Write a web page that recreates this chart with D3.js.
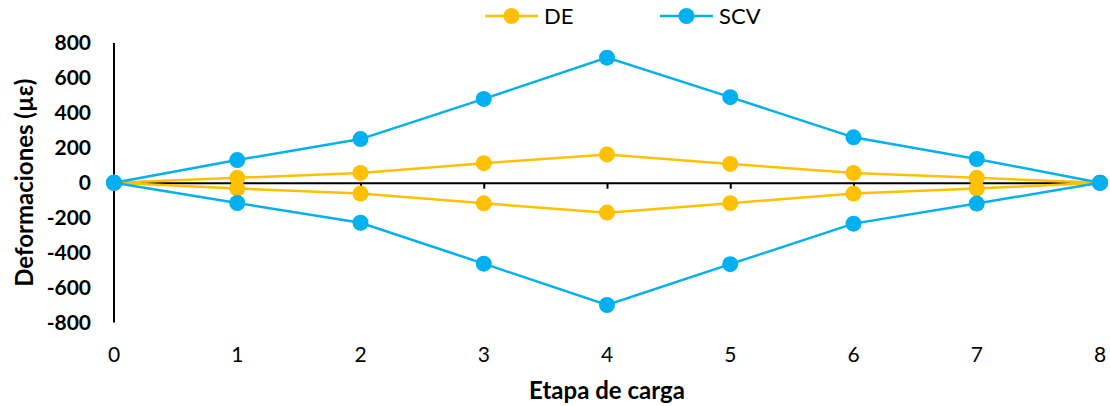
<!DOCTYPE html>
<html>
<head>
<meta charset="utf-8">
<script src="https://cdn.jsdelivr.net/npm/d3@7"></script>
<style>
  body { margin: 0; background: #fff; }
  text { font-family: Lato, "Open Sans", sans-serif; }
</style>
</head>
<body>
<div id="chart"></div>
<script>
// Data
var etapas = [0, 1, 2, 3, 4, 5, 6, 7, 8];
var deSup = [0, 28, 56, 112, 162, 108, 56, 28, 0];
var deInf = [0, -33, -62, -118, -171, -117, -62, -33, 0];
var scvSup = [0, 130, 250, 480, 716, 490, 260, 136, 0];
var scvInf = [0, -116, -229, -463, -700, -466, -234, -119, 0];
var yTicks = [-800, -600, -400, -200, 0, 200, 400, 600, 800];

var width = 1110, height = 406;
var svg = d3.select('#chart').append('svg')
    .attr('width', width)
    .attr('height', height);

var x = d3.scaleLinear().domain([0, 8]).range([114, 1100]);
var y = d3.scaleLinear().domain([-800, 800]).range([322.5, 43]);

var orange = '#FFC000', blue = '#00B0F0';

// Y axis (line only, bold labels)
svg.append('line')
    .attr('x1', x(0)).attr('x2', x(0))
    .attr('y1', y(800)).attr('y2', y(-800))
    .attr('stroke', '#000').attr('stroke-width', 2);
svg.append('g').selectAll('text')
    .data(yTicks)
    .enter().append('text')
    .attr('x', 91)
    .attr('y', function (d) { return y(d); })
    .attr('dy', '0.35em')
    .attr('text-anchor', 'end')
    .attr('font-size', 21)
    .attr('font-weight', 'bold')
    .text(function (d) { return d; });

// X axis along zero
var xAxis = d3.axisBottom(x).tickValues(etapas).tickSize(6).tickFormat('');
var gx = svg.append('g')
    .attr('transform', 'translate(0,' + y(0) + ')')
    .call(xAxis);
gx.select('.domain').attr('stroke', '#000').attr('stroke-width', 2);
gx.selectAll('.tick line').attr('stroke', '#000').attr('stroke-width', 2);

svg.append('g').selectAll('text')
    .data(etapas)
    .enter().append('text')
    .attr('x', function (d) { return x(d); })
    .attr('y', 355)
    .attr('dy', '0.35em')
    .attr('text-anchor', 'middle')
    .attr('font-size', 21)
    .text(function (d) { return d; });

// Axis titles
svg.append('text')
    .attr('x', 607).attr('y', 391)
    .attr('dy', '0.35em')
    .attr('text-anchor', 'middle')
    .attr('font-size', 24)
    .attr('font-weight', 'bold')
    .text('Etapa de carga');
svg.append('text')
    .attr('transform', 'translate(25,' + y(0) + ') rotate(-90)')
    .attr('dy', '0.35em')
    .attr('text-anchor', 'middle')
    .attr('font-size', 24)
    .attr('font-weight', 'bold')
    .text('Deformaciones (µε)');

// Series
var line = d3.line()
    .x(function (d, i) { return x(etapas[i]); })
    .y(function (d) { return y(d); });

var series = [
    { vals: deSup, color: orange },
    { vals: deInf, color: orange },
    { vals: scvSup, color: blue },
    { vals: scvInf, color: blue }
];

series.forEach(function (s) {
    svg.append('path')
        .datum(s.vals)
        .attr('fill', 'none')
        .attr('stroke', s.color)
        .attr('stroke-width', 2.5)
        .attr('d', line);
    svg.append('g').selectAll('circle')
        .data(s.vals)
        .enter().append('circle')
        .attr('cx', function (d, i) { return x(etapas[i]); })
        .attr('cy', function (d) { return y(d); })
        .attr('r', 8)
        .attr('fill', s.color);
});

// Legend
var legend = [
    { name: 'DE', color: orange, x: 485 },
    { name: 'SCV', color: blue, x: 660 }
];
legend.forEach(function (l) {
    var g = svg.append('g').attr('transform', 'translate(' + l.x + ',16)');
    g.append('line').attr('x1', 0).attr('x2', 53)
        .attr('stroke', l.color).attr('stroke-width', 2.5);
    g.append('circle').attr('cx', 26.5).attr('r', 8).attr('fill', l.color);
    g.append('text').attr('x', 59).attr('dy', '0.35em')
        .attr('font-size', 22).text(l.name);
});
</script>
</body>
</html>
